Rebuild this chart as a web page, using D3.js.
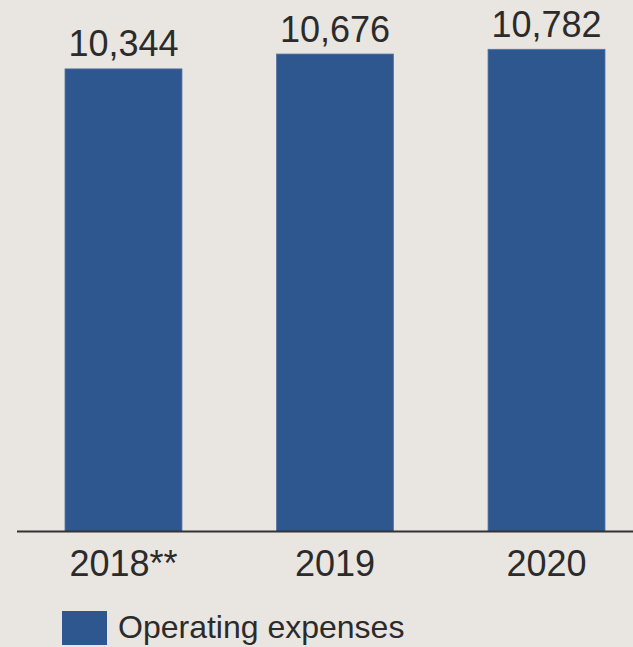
<!DOCTYPE html>
<html>
<head>
<meta charset="utf-8">
<script src="https://cdn.jsdelivr.net/npm/d3@7"></script>
<style>
  html, body { margin: 0; padding: 0; background: #e9e5e1; }
  svg { display: block; }
</style>
</head>
<body>
<script>
// Operating expenses by year
const years = ["2018**", "2019", "2020"];
const expenses = [10344, 10676, 10782];
const seriesName = "Operating expenses";

const W = 633, H = 647;
const baseY = 531.5;
const barColor = "#2e578f";
const textColor = "#2b2b2b";

const svg = d3.select("body").append("svg")
  .attr("width", W).attr("height", H)
  .style("background", "#e9e5e1");

const x = d3.scaleBand()
  .domain(years)
  .range([65, 605])
  .paddingInner(0.447)
  .paddingOuter(0);

const y = d3.scaleLinear()
  .domain([0, 10782])
  .range([baseY, 49.3]);

// bars
svg.selectAll("rect.bar")
  .data(years)
  .join("rect")
  .attr("class", "bar")
  .attr("x", (d) => x(d))
  .attr("width", x.bandwidth())
  .attr("y", (d, i) => y(expenses[i]))
  .attr("height", (d, i) => baseY - y(expenses[i]))
  .attr("fill", barColor)
  .attr("stroke", "#5676a5")
  .attr("stroke-width", 0.8);

// value labels
svg.selectAll("text.val")
  .data(years)
  .join("text")
  .attr("class", "val")
  .attr("x", (d) => x(d) + x.bandwidth() / 2)
  .attr("y", (d, i) => y(expenses[i]) - 12.5)
  .attr("text-anchor", "middle")
  .attr("font-family", "Liberation Sans, Arial, sans-serif")
  .attr("font-size", 36)
  .attr("fill", textColor)
  .text((d, i) => d3.format(",")(expenses[i]));

// x axis
const axis = svg.append("g")
  .attr("transform", `translate(0,${baseY})`)
  .call(d3.axisBottom(x).tickSize(0).tickPadding(0));
axis.select(".domain").remove();
axis.append("line")
  .attr("x1", 17).attr("x2", W)
  .attr("y1", 0).attr("y2", 0)
  .attr("stroke", "#333")
  .attr("stroke-width", 2);
axis.selectAll(".tick text")
  .attr("y", 44.5)
  .attr("dy", null)
  .attr("font-family", "Liberation Sans, Arial, sans-serif")
  .attr("font-size", 36)
  .attr("fill", textColor);

// legend
const legend = svg.append("g");
legend.append("rect")
  .attr("x", 62).attr("y", 611)
  .attr("width", 45).attr("height", 34)
  .attr("fill", barColor);
legend.append("text")
  .attr("x", 118).attr("y", 638)
  .attr("font-family", "Liberation Sans, Arial, sans-serif")
  .attr("font-size", 32)
  .attr("fill", textColor)
  .text(seriesName);
</script>
</body>
</html>
